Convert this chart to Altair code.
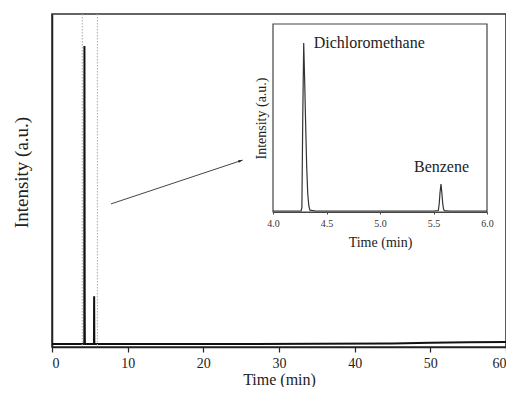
import altair as alt
import pandas as pd

# Chromatogram trace (time in min, intensity a.u.)
time = [0.0, 2.0, 4.0, 4.20, 4.262, 4.270, 4.278, 4.287, 4.295, 4.305, 4.315, 4.325, 4.335, 4.345, 4.40,
        5.0, 5.50, 5.545, 5.553, 5.561, 5.570, 5.578, 5.586, 5.594, 5.602, 5.65, 6.0,
        20.0, 35.0, 45.0, 50.0, 55.0, 60.0]
intensity = [0.0, 0.0, 0.0, 0.0, 0.0, 2.0, 55.0, 100.0, 80.0, 52.0, 26.0, 10.0, 3.0, 0.5, 0.0,
             0.0, 0.0, 0.3, 4.0, 11.0, 16.0, 11.0, 4.5, 1.2, 0.2, 0.0, 0.0,
             0.0, 0.05, 0.2, 0.45, 0.6, 0.7]

x_ticks_main = [0, 10, 20, 30, 40, 50, 60]
x_ticks_inset = [4.0, 4.5, 5.0, 5.5, 6.0]
zoom_window = [4.0, 6.0]
labels = ["Dichloromethane", "Benzene"]
label_t = [4.38, 5.575]
label_v = [100.0, 26.0]
arrow_t = [7.8, 25.2]
arrow_v = [47.0, 61.7]

df = pd.DataFrame({"t": time, "v": intensity})
win = pd.DataFrame({"t": zoom_window})
lab = pd.DataFrame({"name": labels, "t": label_t, "v": label_v})
arr = pd.DataFrame({"t": arrow_t, "v": arrow_v})
tip = arr.iloc[[1]]

FONT = "Liberation Serif"
W, H = 454, 333

xs_main = alt.Scale(domain=[0, 60], nice=False, zero=False)
ys_main = alt.Scale(domain=[-1.0, 110.7], nice=False, zero=False)
xs_in = alt.Scale(domain=[4.0, 6.0], range=[221, 435], nice=False, zero=False)
ys_in = alt.Scale(domain=[-0.6, 111.3], range=[198, 10], nice=False, zero=False)

ax_x_main = alt.Axis(title="Time (min)", values=x_ticks_main, format="d", grid=False,
                     tickSize=5, tickColor="#222", tickWidth=1.2, domainColor="#222",
                     domainWidth=1.5, labelFont=FONT, labelFontSize=14, labelColor="#222",
                     labelPadding=4, titleFont=FONT, titleFontSize=16, titleFontWeight="normal",
                     titleColor="#222", titlePadding=1)
ax_y_main = alt.Axis(title="Intensity (a.u.)", labels=False, ticks=False, grid=False,
                     domainColor="#222", domainWidth=1.5, titleFont=FONT, titleFontSize=19,
                     titleFontWeight="normal", titleColor="#222", titlePadding=21, titleY=158)
ax_x_in = alt.Axis(orient="bottom", offset=-135, title="Time (min)", values=x_ticks_inset,
                   format=".1f", grid=False, tickSize=2, tickColor="#444", domainColor="#444",
                   domainWidth=1.2, labelFont=FONT, labelFontSize=10, labelColor="#333",
                   labelPadding=4, labelFlush=False, titleFont=FONT, titleFontSize=14,
                   titleFontWeight="normal", titleColor="#222", titlePadding=7)
ax_y_in = alt.Axis(orient="left", offset=-221, title="Intensity (a.u.)", labels=False,
                   ticks=False, grid=False, domain=False, titleFont=FONT, titleFontSize=14,
                   titleFontWeight="normal", titleColor="#222", titlePadding=5)

main_trace = alt.Chart(df).mark_line(color="#111", strokeWidth=2, clip=True).encode(
    x=alt.X("t:Q", scale=xs_main, axis=ax_x_main),
    y=alt.Y("v:Q", scale=ys_main, axis=ax_y_main),
)

window_rules = alt.Chart(win).mark_rule(color="#aaa", strokeWidth=1, strokeDash=[1.5, 1.5]).encode(
    x=alt.X("t:Q", scale=xs_main, axis=ax_x_main)
)

arrow_line = alt.Chart(arr).mark_line(color="#444", strokeWidth=1).encode(
    x=alt.X("t:Q", scale=xs_main, axis=ax_x_main),
    y=alt.Y("v:Q", scale=ys_main, axis=ax_y_main),
)
arrow_head = alt.Chart(tip).mark_point(
    shape="M0,0L-1,-0.32L-1,0.32Z", filled=True, color="#222", size=80, opacity=1, angle=341.6
).encode(
    x=alt.X("t:Q", scale=xs_main, axis=ax_x_main),
    y=alt.Y("v:Q", scale=ys_main, axis=ax_y_main),
)

main = alt.layer(main_trace, window_rules, arrow_line, arrow_head)

inset_frame = alt.Chart(win).mark_rect(fill="white", stroke="#444", strokeWidth=1.2).encode(
    x=alt.X("min(t):Q", scale=xs_in, axis=ax_x_in),
    x2=alt.X2("max(t):Q"),
    y=alt.Y(datum=-0.6, scale=ys_in, axis=ax_y_in),
    y2=alt.Y2(datum=111.3),
)

inset_trace = alt.Chart(df).transform_filter(
    (alt.datum.t >= 4.0) & (alt.datum.t <= 6.0)
).mark_line(color="#333", strokeWidth=1.2).encode(
    x=alt.X("t:Q", scale=xs_in, axis=ax_x_in),
    y=alt.Y("v:Q", scale=ys_in, axis=ax_y_in),
)

label_base = alt.Chart(lab).encode(
    x=alt.X("t:Q", scale=xs_in, axis=ax_x_in),
    y=alt.Y("v:Q", scale=ys_in, axis=ax_y_in),
    text="name:N",
)
label_left = label_base.transform_filter(alt.datum.name == labels[0]).mark_text(
    font=FONT, fontSize=16, color="#222", baseline="middle", align="left")
label_center = label_base.transform_filter(alt.datum.name == labels[1]).mark_text(
    font=FONT, fontSize=16, color="#222", baseline="middle", align="center")

inset = alt.layer(inset_frame, inset_trace, label_left, label_center)

chart = alt.layer(main, inset).resolve_scale(x="independent", y="independent").resolve_axis(
    x="independent", y="independent"
).properties(
    width=W, height=H,
    autosize=alt.AutoSizeParams(type="none"),
    padding={"left": 44, "top": 6, "right": 0, "bottom": 40},
    background="white",
).configure_view(stroke="#333", strokeWidth=1.6)

chart.save("out.html", embed_options={"renderer": "svg", "actions": False})
